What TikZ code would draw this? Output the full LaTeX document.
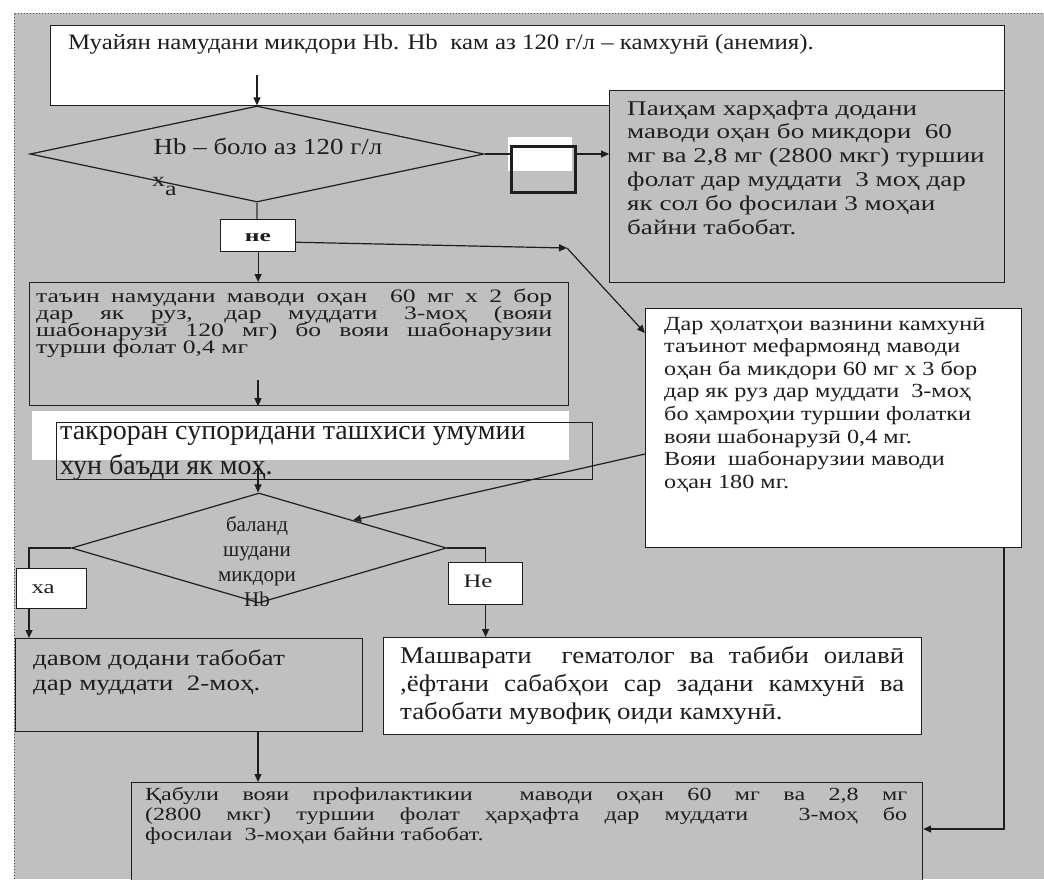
\documentclass[tikz,border=0pt]{standalone}
\usepackage{fontspec}
\setmainfont{Liberation Serif}
% one family per text block, each with its own width factor
\newfontfamily\fTop[FakeStretch=1.13]{Liberation Serif}
\newfontfamily\fDia[FakeStretch=1.17]{Liberation Serif}
\newfontfamily\fRt[FakeStretch=1.29]{Liberation Serif}
\newfontfamily\fMid[FakeStretch=1.21]{Liberation Serif}
\newfontfamily\fLb[FakeStretch=1.35]{Liberation Serif}
\newfontfamily\fTak{Liberation Serif}
\newfontfamily\fDav[FakeStretch=1.23]{Liberation Serif}
\newfontfamily\fMash[FakeStretch=1.12]{Liberation Serif}
\newfontfamily\fBot[FakeStretch=1.3]{Liberation Serif}
\newfontfamily\fLab[FakeStretch=1.3]{Liberation Serif}
\newfontfamily\fNe[FakeStretch=1.5]{Liberation Serif}
\usetikzlibrary{arrows.meta,shapes.geometric,calc}
\definecolor{panel}{RGB}{192,192,192}
\definecolor{ink}{RGB}{30,30,30}
\newcommand\jline[2]{\makebox[#1][s]{#2}}
\tikzset{
  box/.style={draw=ink, line width=1.2pt, inner sep=0pt, anchor=north west},
  whitebox/.style={box, fill=white},
  graybox/.style={box, fill=panel},
  patch/.style={fill=white, draw=none, inner sep=0pt, anchor=north west},
  txt/.style={anchor=base west, inner sep=0pt, text=ink},
  ctxt/.style={anchor=base, inner sep=0pt, text=ink},
  link/.style={draw=ink, line width=1.2pt},
  arr/.style={link, -{Triangle[length=8pt,width=7pt]}},
  dia/.style={diamond, draw=ink, line width=1.2pt, inner sep=0pt},
}
\begin{document}
\begin{tikzpicture}[x=1pt,y=-1pt]
\useasboundingbox (0,0) rectangle (1044,879);
\clip (0,0) rectangle (1044,879);
\fill[white] (0,0) rectangle (1044,879);
% grey page with dotted frame
\fill[panel] (14,13) rectangle (1044,879);
\draw[ink!80, dotted, line width=1pt] (14,879) -- (14,13) -- (1044,13);

% boxes
\node[whitebox, minimum width=954pt, minimum height=80pt] (top) at (50,25) {};
\node[graybox, minimum width=395pt, minimum height=192pt] (rt) at (609,90) {};
\node[patch, minimum width=64pt, minimum height=34pt] (sbpatch) at (508,137) {};
\node[box, line width=2.5pt, minimum width=64pt, minimum height=46pt] (sb) at (510,145) {};
\node[dia, minimum width=454pt, minimum height=96pt] (d1) at (257,154) {};
\node[whitebox, minimum width=75pt, minimum height=32pt] (ne) at (220,219) {};
\node[graybox, minimum width=539pt, minimum height=123pt] (lb1) at (29,282) {};
\node[whitebox, minimum width=376pt, minimum height=239pt] (mid) at (645,308) {};
\node[patch, minimum width=537pt, minimum height=49pt] (takpatch) at (32,411) {};
\node[box, minimum width=536pt, minimum height=57pt] (tak) at (56,422) {};
\node[dia, minimum width=375pt, minimum height=110pt] (d2) at (259,548) {};
\node[whitebox, minimum width=70pt, minimum height=40pt] (ha) at (16,568) {};
\node[whitebox, minimum width=74pt, minimum height=42pt] (He) at (448,562) {};
\node[graybox, minimum width=347pt, minimum height=93pt] (dav) at (15,638) {};
\node[whitebox, minimum width=538pt, minimum height=97pt] (mash) at (383,637) {};
\node[graybox, minimum width=791pt, minimum height=140pt] (bot) at (131,782) {};

% texts
\node[txt] (ttop) at (68,49) {\fTop\fontsize{22}{26}\selectfont Муайян намудани микдори Hb. Hb\ \ кам аз 120 г/л – камхунӣ (анемия).};
\node[ctxt] (td1) at (268,154) {\fDia\fontsize{23}{27}\selectfont Hb – боло аз 120 г/л};
\node[txt] (txa) at (152,186) {\fLab\fontsize{20}{24}\selectfont х\raisebox{-9pt}{а}};
\node[txt] (trt) at (627,115) {\parbox[t]{600pt}{\raggedright\fRt\fontsize{21}{23.8}\selectfont
  Паиҳам харҳафта додани\\
  маводи оҳан бо микдори\ \ 60\\
  мг ва 2,8 мг (2800 мкг) туршии\\
  фолат дар муддати\ \ 3 моҳ дар\\
  як сол бо фосилаи 3 моҳаи\\
  байни табобат.}};
\node[ctxt] (tne) at (258,241) {\fNe\bfseries\fontsize{17}{20}\selectfont не};
\node[txt] (tlb1) at (36,302) {\parbox[t]{516pt}{\lineskiplimit=-100pt\fLb\fontsize{19}{17}\selectfont
  \jline{516pt}{таъин намудани маводи оҳан\ \ 60 мг х 2 бор}\\
  \jline{516pt}{дар як руз, дар муддати 3-моҳ (вояи}\\
  \jline{516pt}{шабонарузӣ 120 мг) бо вояи шабонарузии}\\
  турши фолат 0,4 мг}};
\node[txt] (tmid) at (664,330) {\parbox[t]{600pt}{\raggedright\fMid\fontsize{20}{22.6}\selectfont
  Дар ҳолатҳои вазнини камхунӣ\\
  таъинот мефармоянд маводи\\
  оҳан ба микдори 60 мг х 3 бор\\
  дар як руз дар муддати\ \ 3-моҳ\\
  бо ҳамроҳии туршии фолатки\\
  вояи шабонарузӣ 0,4 мг.\\
  Вояи\ \ шабонарузии маводи\\
  оҳан 180 мг.}};
\node[txt] (ttak) at (60,439) {\parbox[t]{600pt}{\raggedright\fTak\fontsize{28}{35}\selectfont
  такроран супоридани ташхиси умумии\\
  хун баъди як моҳ.}};
\node[ctxt] (td2) at (257,531) {\parbox[t]{200pt}{\centering\fontsize{21}{25}\selectfont
  баланд\\ шудани\\ микдори\\ Hb}};
\node[ctxt] (tha) at (43,593) {\fLab\fontsize{19}{22}\selectfont ха};
\node[ctxt] (tHe) at (478,587) {\fLab\fontsize{19}{22}\selectfont Не};
\node[txt] (tdav) at (33,665) {\parbox[t]{600pt}{\raggedright\fDav\fontsize{22}{25}\selectfont
  давом додани табобат\\
  дар муддати\ \ 2-моҳ.}};
\node[txt] (tmash) at (400,663) {\parbox[t]{504pt}{\fMash\fontsize{24}{28}\selectfont
  \jline{504pt}{Машварати\ \ гематолог ва табиби оилавӣ}\\
  \jline{504pt}{,ёфтани сабабҳои сар задани камхунӣ ва}\\
  табобати мувофиқ оиди камхунӣ.}};
\node[txt] (tbot) at (145,800) {\parbox[t]{762pt}{\fBot\fontsize{18.5}{20}\selectfont
  \jline{762pt}{Қабули вояи профилактикии\ \ маводи оҳан 60 мг ва 2,8 мг}\\
  \jline{762pt}{(2800 мкг) туршии фолат ҳарҳафта дар муддати\ \ 3-моҳ бо}\\
  фосилаи\ \ 3-моҳаи байни табобат.}};

% connectors
\coordinate (a0) at (257,75);
\draw[arr] (a0) -- (a0 |- d1.north);
\draw[ink!70, line width=1.2pt] (d1.south) -- (d1.south |- ne.north);
\draw[arr] (ne.south) -- (ne.south |- lb1.north);
\draw[link] (d1.east) -- (d1.east -| sb.west);
\draw[arr] (d1.east -| sb.east) -- (d1.east -| rt.west);
\coordinate (c1) at (567,248);
\draw[arr] ($(ne.south east)!0.3!(ne.north east)$) -- (c1);
\draw[arr] (c1) -- ($(mid.north west)+(0,25)$);
\coordinate (c2) at (258,380);
\draw[arr] (c2) -- (c2 |- lb1.south);
\coordinate (c3) at (258,465);
\draw[arr] (c3) -- (c3 |- d2.north);
\draw[arr] ($(mid.north west)+(0,146)$) -- (d2.north east);
\coordinate (c4) at (29,548);
\draw[link] (d2.west) -- (c4) -- (c4 |- ha.north);
\draw[arr] (c4 |- ha.south) -- (c4 |- dav.north);
\draw[link] (d2.east) -| (He.north);
\draw[arr] (He.south) -- (He.south |- mash.north);
\coordinate (c5) at (258,731);
\draw[arr] (c5 |- dav.south) -- (c5 |- bot.north);
\coordinate (c6) at (1004,829);
\draw[arr] (c6 |- mid.south) -- (c6) -- (c6 -| bot.east);
\end{tikzpicture}
\end{document}
